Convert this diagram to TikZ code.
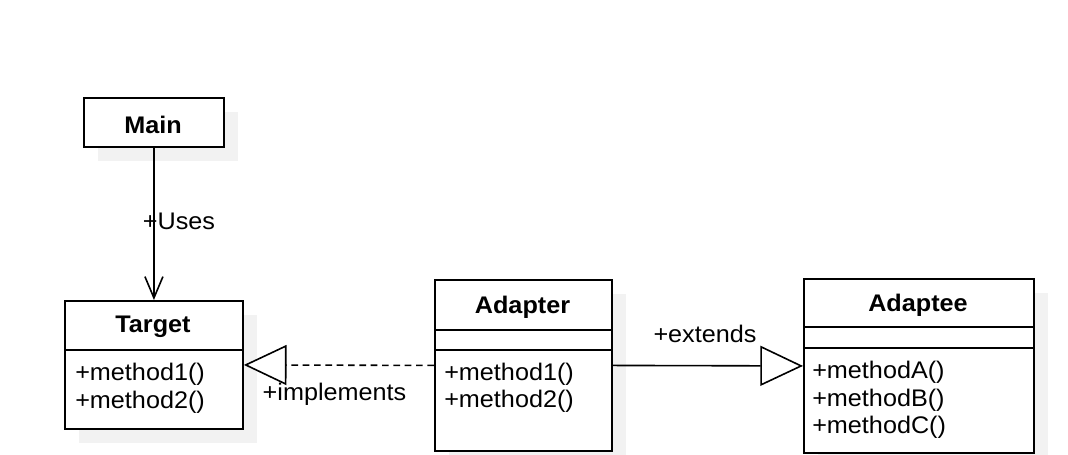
\documentclass[tikz,border=0pt]{standalone}
\usepackage{fontspec}
\setmainfont{Liberation Sans}[FakeStretch=1.05]
\usetikzlibrary{arrows.meta}
\definecolor{shadowc}{HTML}{F2F2F2}
\begin{document}
\begin{tikzpicture}[x=0.75pt,y=-0.75pt,
  txt/.style={font=\fontsize{18}{21}\selectfont, inner sep=0pt},
  ttl/.style={font=\fontsize{18}{21}\selectfont\bfseries, inner sep=0pt},
  cls/.style={draw=black, line width=1.4pt, fill=white, inner sep=0pt},
  divider/.style={line width=1.4pt},
  conn/.style={line width=1.2pt},
  usesarrow/.style={-{Straight Barb[length=16pt,width=13.5pt,line width=1.2pt]}},
  realarrow/.style={-{Triangle[length=32pt,width=30pt,fill=white,line width=1.2pt]}}
]
\useasboundingbox (0,0) rectangle (1068,454);
\clip (0,0) rectangle (1068,454);
\fill[white] (0,0) rectangle (1068,454);
% shadows
\fill[shadowc] (98,112) rectangle (238,161);
\fill[shadowc] (79,315) rectangle (257,443);
\fill[shadowc] (449,294) rectangle (626,465);
\fill[shadowc] (818,293) rectangle (1048,467);
% class boxes
\node[cls, anchor=north west, minimum width=105pt, minimum height=36.75pt] (main) at (83,97) {};
\node[cls, anchor=north west, minimum width=133.5pt, minimum height=96pt] (target) at (64,300) {};
\node[cls, anchor=north west, minimum width=132.75pt, minimum height=128.25pt] (adapter) at (434,279) {};
\node[cls, anchor=north west, minimum width=172.5pt, minimum height=130.5pt] (adaptee) at (803,278) {};
% dividers
\draw[divider] (target.west |- 0,350) -- (target.east |- 0,350);
\draw[divider] (adapter.west |- 0,330) -- (adapter.east |- 0,330);
\draw[divider] (adapter.west |- 0,350) -- (adapter.east |- 0,350);
\draw[divider] (adaptee.west |- 0,327) -- (adaptee.east |- 0,327);
\draw[divider] (adaptee.west |- 0,348) -- (adaptee.east |- 0,348);
% titles
\node[ttl] (maint) at (153,125) {Main};
\node[ttl] (targett) at (153,327) {Target};
\node[ttl] (adaptert) at (522.5,307) {Adapter};
\node[ttl] (adapteet) at (918,305) {Adaptee};
% methods
\node[txt, anchor=west] (t1) at (75,374) {+method1()};
\node[txt, anchor=west] (t2) at (75,402) {+method2()};
\node[txt, anchor=west] (a1) at (444,374) {+method1()};
\node[txt, anchor=west] (a2) at (444,401) {+method2()};
\node[txt, anchor=west] (e1) at (812,372) {+methodA()};
\node[txt, anchor=west] (e2) at (812,400) {+methodB()};
\node[txt, anchor=west] (e3) at (812,427) {+methodC()};
% connectors
\draw[conn, usesarrow] (main.south) -- (target.north);
\node[txt] (uses) at (179,221) {+Uses};
\draw[conn, dash pattern=on 5pt off 3.5pt, realarrow] (adapter.west) -- (target.east);
\node[txt] (impl) at (334.5,394) {+implements};
\draw[conn, realarrow] (adapter.east) -- (adaptee.west);
\node[txt] (ext) at (705,334) {+extends};
\end{tikzpicture}
\end{document}
